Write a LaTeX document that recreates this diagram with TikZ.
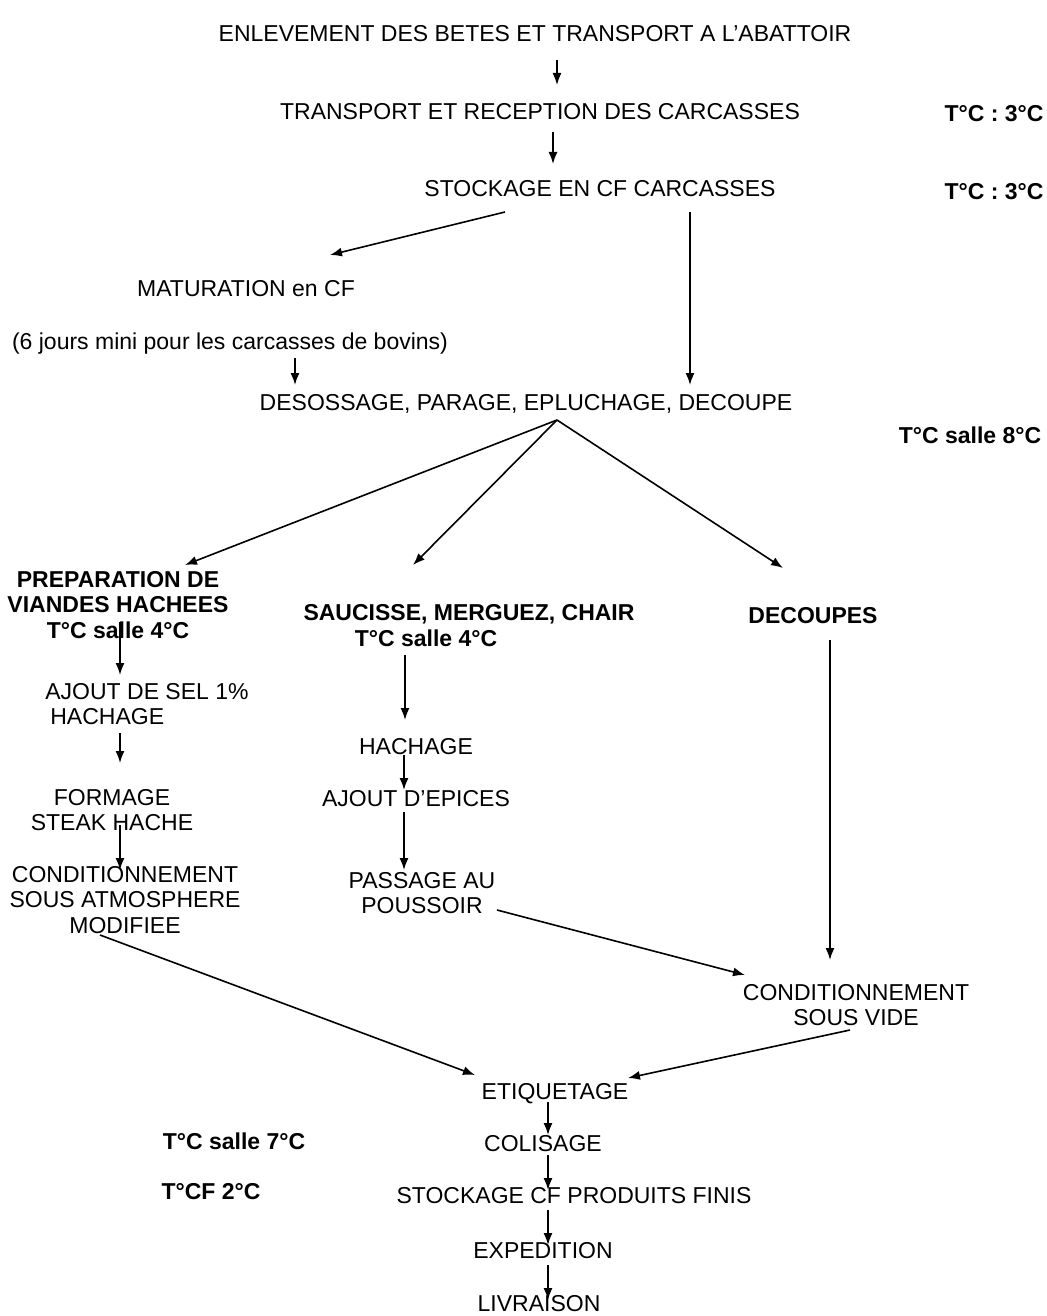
\documentclass[tikz,border=0pt]{standalone}
\usepackage{fontspec}
\setmainfont{Liberation Sans}
\usetikzlibrary{arrows.meta,calc}
\begin{document}
\begin{tikzpicture}[x=1pt,y=-1pt,
  lbl/.style={inner sep=0pt,text height=17pt,text depth=4pt,font=\fontsize{23}{26}\selectfont},
  blbl/.style={lbl,font=\fontsize{23}{26}\selectfont\bfseries},
  multi/.style={inner sep=0pt,align=center,font=\fontsize{23}{25.5}\selectfont},
  bmulti/.style={multi,font=\fontsize{23}{25.5}\selectfont\bfseries},
  arr/.style={line width=1.6pt,-{Latex[length=12pt,width=9pt]}}]
\fill[white] (0,0) rectangle (1046,1316);
\useasboundingbox (0,0) rectangle (1046,1316);
% nodes
\node[lbl] (enl) at (535,35) {ENLEVEMENT DES BETES ET TRANSPORT A L'ABATTOIR};
\node[lbl] (trans) at (540,113) {TRANSPORT ET RECEPTION DES CARCASSES};
\node[blbl] (t1) at (994,115) {T°C : 3°C};
\node[lbl] (stock) at (600,190) {STOCKAGE EN CF CARCASSES};
\node[blbl] (t2) at (994,193) {T°C : 3°C};
\node[lbl] (mat) at (246,290) {MATURATION en CF};
\node[lbl] (six) at (230,343) {(6 jours mini pour les carcasses de bovins)};
\node[lbl] (deso) at (526,404) {DESOSSAGE, PARAGE, EPLUCHAGE, DECOUPE};
\node[blbl] (t8) at (970,437) {T°C salle 8°C};
\node[bmulti] (prep) at (118,605) {PREPARATION DE\\VIANDES HACHEES\\T°C salle 4°C};
\node[blbl] (sauc) at (469,614) {SAUCISSE, MERGUEZ, CHAIR};
\node[blbl] (sauct) at (426,640) {T°C salle 4°C};
\node[blbl] (dec) at (813,617) {DECOUPES};
\node[multi,align=left] (sel) at (147,704) {AJOUT DE SEL 1\%\\\hspace{5pt}HACHAGE};
\node[multi] (form) at (112,810) {FORMAGE\\STEAK HACHE};
\node[multi] (condm) at (125,900) {CONDITIONNEMENT\\SOUS ATMOSPHERE\\MODIFIEE};
\node[lbl] (hach) at (416,748) {HACHAGE};
\node[lbl] (epi) at (416,800) {AJOUT D'EPICES};
\node[multi] (pass) at (422,893) {PASSAGE AU\\POUSSOIR};
\node[multi] (csv) at (856,1005) {CONDITIONNEMENT\\SOUS VIDE};
\node[lbl] (etiq) at (555,1093) {ETIQUETAGE};
\node[lbl] (coli) at (543,1145) {COLISAGE};
\node[blbl] (t7) at (234,1143) {T°C salle 7°C};
\node[lbl] (stpf) at (574,1197) {STOCKAGE CF PRODUITS FINIS};
\node[blbl] (tcf) at (211,1193) {T°CF 2°C};
\node[lbl] (exp) at (543,1252) {EXPEDITION};
\node[lbl] (liv) at (539,1305) {LIVRAISON};
% connectors
\draw[arr] ($(enl)+(22,25)$) -- ($(trans)+(17,-28)$);
\draw[arr] ($(trans)+(13,19)$) -- ($(stock)+(-47,-26)$);
\draw[arr] ($(stock)+(-95,22)$) -- ($(mat)+(84,-35)$);
\draw[arr] ($(stock)+(90,22)$) -- ($(deso)+(164,-19)$);
\draw[arr] ($(six)+(65,15)$) -- ($(deso)+(-231,-19)$);
\draw[arr] ($(deso)+(31,16)$) -- ($(prep)+(67,-40)$);
\draw[arr] ($(deso)+(31,16)$) -- ($(sauc)+(-56,-49)$);
\draw[arr] ($(deso)+(31,16)$) -- ($(dec)+(-30,-49)$);
\draw[arr] ($(prep)+(2,17)$) -- ($(sel)+(-27,-29)$);
\draw[arr] ($(sel)+(-27,29)$) -- ($(form)+(8,-47)$);
\draw[arr] ($(form)+(8,15)$) -- ($(condm)+(-5,-30)$);
\draw[arr] ($(sauct)+(-21,15)$) -- ($(hach)+(-11,-28)$);
\draw[arr] ($(hach)+(-12,7)$) -- ($(epi)+(-12,-10)$);
\draw[arr] ($(epi)+(-12,12)$) -- ($(pass)+(-18,-23)$);
\draw[arr] ($(dec)+(17,23)$) -- ($(csv)+(-26,-45)$);
\draw[arr] ($(pass)+(75,17)$) -- ($(csv)+(-111,-30)$);
\draw[arr] ($(condm)+(-25,35)$) -- ($(etiq)+(-80,-18)$);
\draw[arr] ($(csv)+(-6,25)$) -- ($(etiq)+(73,-15)$);
\draw[arr] ($(etiq)+(-7,9)$) -- ($(coli)+(5,-10)$);
\draw[arr] ($(coli)+(5,10)$) -- ($(stpf)+(-26,-7)$);
\draw[arr] ($(stpf)+(-26,13)$) -- ($(exp)+(5,-7)$);
\draw[arr] ($(exp)+(5,13)$) -- ($(liv)+(9,-5)$);
\end{tikzpicture}
\end{document}
